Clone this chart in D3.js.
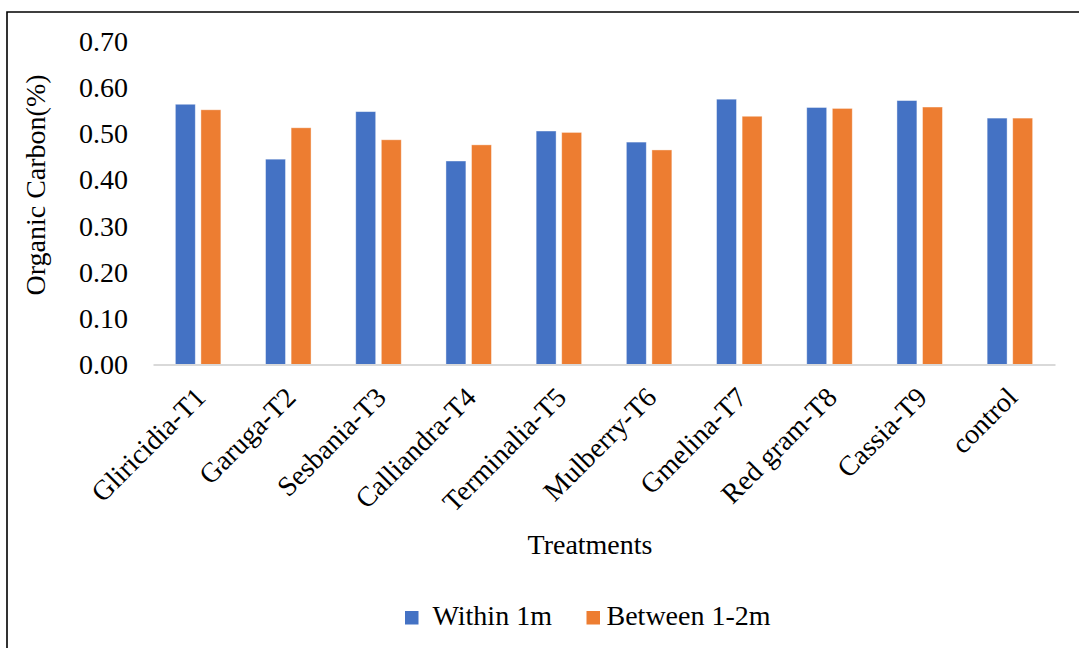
<!DOCTYPE html>
<html>
<head>
<meta charset="utf-8">
<script src="https://cdn.jsdelivr.net/npm/d3@7"></script>
<style>
  html, body { margin: 0; padding: 0; background: #fff; }
  svg { display: block; font-family: "Liberation Serif", "Times New Roman", serif; }
</style>
</head>
<body>
<svg id="chart" width="1079" height="648"></svg>
<script>
const categories = ["Gliricidia-T1", "Garuga-T2", "Sesbania-T3", "Calliandra-T4", "Terminalia-T5", "Mulberry-T6", "Gmelina-T7", "Red gram-T8", "Cassia-T9", "control"];
const seriesNames = ["Within 1m", "Between 1-2m"];
const within1m = [0.564, 0.445, 0.548, 0.441, 0.506, 0.482, 0.575, 0.557, 0.572, 0.534];
const between12m = [0.552, 0.513, 0.487, 0.476, 0.503, 0.465, 0.538, 0.555, 0.558, 0.534];
const yTicks = [0, 0.1, 0.2, 0.3, 0.4, 0.5, 0.6, 0.7];
const colors = ["#4472C4", "#ED7D31"];

const svg = d3.select("#chart");
const W = 1079, H = 648;
const plotLeft = 153, plotRight = 1055, plotTop = 41.5, plotBottom = 364.5;
const fs = 28;

// border
svg.append("path")
  .attr("d", `M7,${H} L7,12 L${W},12`)
  .attr("fill", "none").attr("stroke", "#000").attr("stroke-width", 1.6);

const x0 = d3.scaleBand().domain(categories).range([plotLeft, plotRight]).padding(0);
const x1 = d3.scaleBand().domain(seriesNames).range([-22.75, 22.75]).paddingInner(0.22).paddingOuter(0);
const y = d3.scaleLinear().domain([0, 0.7]).range([plotBottom, plotTop]);

const data = categories.map((c, i) => ({ cat: c, vals: [within1m[i], between12m[i]] }));

const g = svg.append("g");
g.selectAll("g.cat").data(data).join("g").attr("class", "cat")
  .attr("transform", d => `translate(${x0(d.cat) + x0.bandwidth() / 2},0)`)
  .selectAll("rect").data(d => d.vals.map((v, j) => ({ v, s: seriesNames[j], j })))
  .join("rect")
  .attr("x", d => x1(d.s))
  .attr("width", x1.bandwidth())
  .attr("y", d => y(d.v))
  .attr("height", d => y(0) - y(d.v))
  .attr("fill", d => colors[d.j])
  .attr("stroke", "#fff").attr("stroke-opacity", 0.5).attr("stroke-width", 0.8);

// x axis line
const xAxis = d3.axisBottom(x0).tickSize(0).tickFormat("");
const xa = svg.append("g").attr("transform", `translate(0,${y(0)})`).call(xAxis);
xa.select(".domain").attr("stroke", "#d9d9d9").attr("stroke-width", 2);

// x labels rotated
svg.append("g").selectAll("text").data(categories).join("text")
  .attr("transform", d => `translate(${x0(d) + x0.bandwidth() / 2 - 5},385) rotate(-45)`)
  .attr("text-anchor", "end")
  .attr("dy", "0.71em")
  .attr("font-size", fs)
  .attr("fill", "#000")
  .text(d => d);

// y axis
const yAxis = d3.axisLeft(y).tickValues(yTicks).tickSize(0).tickPadding(0).tickFormat(d3.format(".2f"));
const ya = svg.append("g").attr("transform", `translate(128,0)`).call(yAxis);
ya.select(".domain").remove();
ya.selectAll("text").attr("font-size", fs).attr("fill", "#000")
  .attr("font-family", "Liberation Serif, Times New Roman, serif");

// y title
svg.append("text")
  .attr("transform", `translate(35,185) rotate(-90)`)
  .attr("text-anchor", "middle").attr("dy", "0.35em")
  .attr("font-size", fs).attr("fill", "#000")
  .text("Organic Carbon(%)");

// x title
svg.append("text")
  .attr("x", 590).attr("y", 554)
  .attr("text-anchor", "middle")
  .attr("font-size", fs).attr("fill", "#000")
  .text("Treatments");

// legend
const legendItems = [{ name: seriesNames[0], c: colors[0], sx: 405, tx: 432.5 }, { name: seriesNames[1], c: colors[1], sx: 586.5, tx: 606.5 }];
const lg = svg.append("g");
lg.selectAll("rect").data(legendItems).join("rect")
  .attr("x", d => d.sx).attr("y", 611).attr("width", 13.5).attr("height", 13.5)
  .attr("fill", d => d.c);
lg.selectAll("text").data(legendItems).join("text")
  .attr("x", d => d.tx).attr("y", 625)
  .attr("font-size", fs).attr("fill", "#000")
  .text(d => d.name);
</script>
</body>
</html>
